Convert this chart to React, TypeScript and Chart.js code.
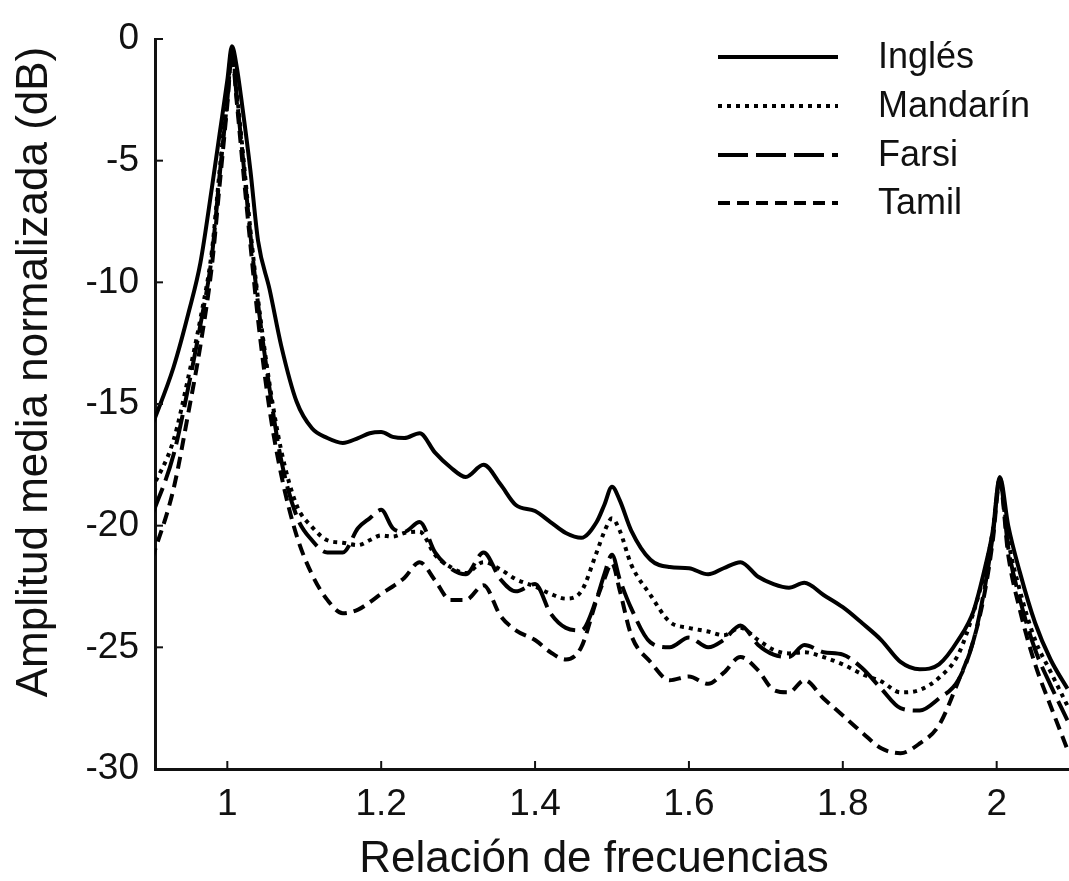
import { useEffect, useRef } from 'react';
import { Chart, registerables } from 'chart.js';

Chart.register(...registerables);

// Frequency ratio (x) grid shared by all series
const freq = [
  0.902, 0.93, 0.95, 0.965, 0.98, 0.99, 1.0, 1.006, 1.012, 1.02,
  1.03, 1.04, 1.055, 1.07, 1.09, 1.11, 1.13, 1.15, 1.17, 1.185,
  1.2, 1.215, 1.23, 1.25, 1.27, 1.29, 1.31, 1.333, 1.355, 1.375,
  1.4, 1.42, 1.44, 1.46, 1.48, 1.49, 1.5, 1.51, 1.525, 1.55,
  1.575, 1.6, 1.625, 1.645, 1.667, 1.69, 1.71, 1.73, 1.75, 1.775,
  1.8, 1.825, 1.85, 1.875, 1.9, 1.925, 1.95, 1.97, 1.985, 1.995,
  2.004, 2.015, 2.03, 2.05, 2.07, 2.092,
];

const ingles = [
  -15.9, -13.5, -11.2, -9.2, -6.1, -3.9, -1.7, -0.3, -1.1, -2.9,
  -5.4, -8.3, -10.3, -12.6, -14.9, -16.0, -16.4, -16.6, -16.4, -16.2,
  -16.15, -16.35, -16.4, -16.2, -17.0, -17.6, -18.0, -17.5, -18.3, -19.15,
  -19.4, -19.85, -20.3, -20.5, -19.85, -19.15, -18.4, -18.95, -20.2, -21.4,
  -21.7, -21.75, -22.0, -21.75, -21.5, -22.1, -22.4, -22.55, -22.35, -22.85,
  -23.35, -24.0, -24.7, -25.6, -25.9, -25.7, -24.7, -23.5, -21.7, -20.2,
  -18.0, -20.0, -21.9, -24.0, -25.5, -26.7,
];

const mandarin = [
  -18.5, -16.5, -13.8, -11.5, -8.7, -5.4, -2.3, -0.45, -2.1, -4.6,
  -7.85, -10.7, -14.2, -16.9, -19.15, -20.05, -20.6, -20.7, -20.8, -20.6,
  -20.4, -20.45, -20.3, -20.25, -21.2, -21.7, -21.95, -21.5, -21.8, -22.2,
  -22.5, -22.8, -23.0, -22.7, -21.1, -20.25, -19.7, -20.2, -21.6, -22.85,
  -23.95, -24.2, -24.35, -24.5, -24.2, -24.7, -25.1, -25.25, -25.2, -25.4,
  -25.7, -26.1, -26.4, -26.85, -26.75, -26.25, -25.3, -23.55, -21.8, -20.2,
  -18.05, -20.6, -22.65, -24.7, -26.0, -27.4,
];

const farsi = [
  -19.6, -17.1, -14.2, -11.75, -8.9, -5.6, -2.5, -0.5, -2.3, -4.8,
  -8.05, -10.9, -14.4, -17.3, -19.6, -20.6, -21.1, -21.1, -20.1, -19.7,
  -19.35, -20.1, -20.25, -19.85, -21.1, -21.75, -22.0, -21.1, -22.2, -22.7,
  -22.4, -23.6, -24.2, -24.3, -23.0, -22.0, -21.2, -22.2, -23.4, -24.8,
  -25.0, -24.6, -25.0, -24.7, -24.1, -24.9, -25.3, -25.4, -24.9, -25.2,
  -25.3, -25.85, -26.7, -27.5, -27.6, -27.1, -26.35, -24.7, -22.45, -20.4,
  -18.1, -20.9, -23.0, -25.1, -26.55, -28.0,
];

const tamil = [
  -21.4, -18.5, -15.25, -12.6, -9.3, -6.0, -2.7, -0.65, -2.5, -5.2,
  -8.45, -11.55, -15.25, -17.9, -20.4, -22.0, -23.05, -23.6, -23.45, -23.15,
  -22.8, -22.5, -22.15, -21.5, -22.25, -23.05, -23.05, -22.45, -23.7, -24.3,
  -24.7, -25.2, -25.5, -25.0, -23.05, -22.2, -21.55, -22.65, -24.5, -25.6,
  -26.35, -26.2, -26.5, -26.05, -25.4, -25.95, -26.75, -26.85, -26.35, -27.1,
  -27.8, -28.5, -29.15, -29.35, -28.95, -28.2, -26.4, -24.7, -22.65, -20.6,
  -18.2, -21.2, -23.45, -25.7, -27.4, -29.2,
];

const seriesNames = ['Inglés', 'Mandarín', 'Farsi', 'Tamil'];
const xTicks = [1, 1.2, 1.4, 1.6, 1.8, 2];
const xTickLabels = ['1', '1.2', '1.4', '1.6', '1.8', '2'];
const yTicks = [0, -5, -10, -15, -20, -25, -30];
const yTickLabels = ['0', '-5', '-10', '-15', '-20', '-25', '-30'];
const xTitle = 'Relación de frecuencias';
const yTitle = 'Amplitud media normalizada (dB)';

const FONT = '"Liberation Sans", Arial, Helvetica, sans-serif';
const INK = '#111111';

const decorPlugin = {
  id: 'decor',
  afterDraw(chart: any) {
    const { ctx, chartArea } = chart;
    const xs = chart.scales.x;
    const ys = chart.scales.y;
    ctx.save();
    // inward tick marks
    ctx.strokeStyle = INK;
    ctx.lineWidth = 2;
    xTicks.forEach((v) => {
      const px = xs.getPixelForValue(v);
      ctx.beginPath();
      ctx.moveTo(px, chartArea.bottom);
      ctx.lineTo(px, chartArea.bottom - 8);
      ctx.stroke();
    });
    yTicks.forEach((v) => {
      const py = ys.getPixelForValue(v);
      ctx.beginPath();
      ctx.moveTo(chartArea.left, py);
      ctx.lineTo(chartArea.left + 8, py);
      ctx.stroke();
    });

    // axis titles
    ctx.fillStyle = INK;
    ctx.font = `44px ${FONT}`;
    ctx.textAlign = 'center';
    ctx.textBaseline = 'alphabetic';
    ctx.fillText(xTitle, 594, 872);
    ctx.save();
    ctx.translate(47, 372);
    ctx.rotate(-Math.PI / 2);
    ctx.fillText(yTitle, 0, 0);
    ctx.restore();

    // legend (top right, inside plot)
    const x0 = chartArea.right - 351;
    const x1 = chartArea.right - 231;
    const tx = chartArea.right - 191;
    const rowY = [57, 106, 155, 203];
    chart.data.datasets.forEach((ds: any, i: number) => {
      const y = rowY[i];
      ctx.save();
      ctx.strokeStyle = ds.borderColor;
      ctx.lineWidth = ds.borderWidth;
      ctx.setLineDash(ds.borderDash || []);
      ctx.beginPath();
      ctx.moveTo(x0, y);
      ctx.lineTo(x1, y);
      ctx.stroke();
      ctx.restore();
      ctx.fillStyle = INK;
      ctx.font = `36px ${FONT}`;
      ctx.textAlign = 'left';
      ctx.textBaseline = 'middle';
      ctx.fillText(ds.label, tx, y + 1);
    });
    ctx.restore();
  },
};

export default function App() {
  const canvasRef = useRef<HTMLCanvasElement | null>(null);

  useEffect(() => {
    if (!canvasRef.current) return;
    const mk = (arr: number[]) => freq.map((x, i) => ({ x, y: arr[i] }));
    const styles = [
      { dash: [] as number[] },
      { dash: [4, 5] },
      { dash: [30, 8] },
      { dash: [12, 7] },
    ];
    const allSeries = [ingles, mandarin, farsi, tamil];
    const chart = new Chart(canvasRef.current, {
      type: 'line',
      data: {
        datasets: allSeries.map((arr, i) => ({
          label: seriesNames[i],
          data: mk(arr),
          borderColor: '#000000',
          backgroundColor: '#000000',
          borderWidth: 4,
          borderDash: styles[i].dash,
          pointRadius: 0,
          cubicInterpolationMode: 'monotone' as const,
          fill: false,
        })),
      },
      options: {
        responsive: false,
        animation: false,
        events: [],
        layout: { padding: { left: 0, top: 39, right: 0, bottom: 0 } },
        plugins: {
          legend: { display: false },
          tooltip: { enabled: false },
          title: { display: false },
        },
        scales: {
          x: {
            type: 'linear',
            min: 0.906,
            max: 2.094,
            afterBuildTicks: (scale: any) => {
              scale.ticks = xTicks.map((v) => ({ value: v }));
            },
            afterFit: (scale: any) => {
              scale.height = 112;
            },
            ticks: {
              autoSkip: false,
              maxRotation: 0,
              padding: 14,
              color: INK,
              font: { family: FONT, size: 37 },
              callback: (v: any) => {
                const idx = xTicks.findIndex((t) => Math.abs(t - Number(v)) < 1e-6);
                return idx >= 0 ? xTickLabels[idx] : '';
              },
            },
            grid: { display: true, drawOnChartArea: false, drawTicks: false },
            border: { display: true, color: INK, width: 3 },
          },
          y: {
            type: 'linear',
            min: -30,
            max: 0,
            afterBuildTicks: (scale: any) => {
              scale.ticks = yTicks.map((v) => ({ value: v }));
            },
            afterFit: (scale: any) => {
              scale.width = 155;
            },
            ticks: {
              autoSkip: false,
              padding: 16,
              color: INK,
              font: { family: FONT, size: 37 },
              callback: (v: any) => {
                const idx = yTicks.findIndex((t) => Math.abs(t - Number(v)) < 1e-6);
                return idx >= 0 ? yTickLabels[idx] : '';
              },
            },
            grid: { display: true, drawOnChartArea: false, drawTicks: false },
            border: { display: true, color: INK, width: 3 },
          },
        },
      },
      plugins: [decorPlugin],
    });
    return () => chart.destroy();
  }, []);

  return (
    <div style={{ position: 'absolute', left: 0, top: 0, width: 1069, height: 881, background: '#ffffff' }}>
      <canvas ref={canvasRef} width={1069} height={881} style={{ display: 'block' }} />
    </div>
  );
}
